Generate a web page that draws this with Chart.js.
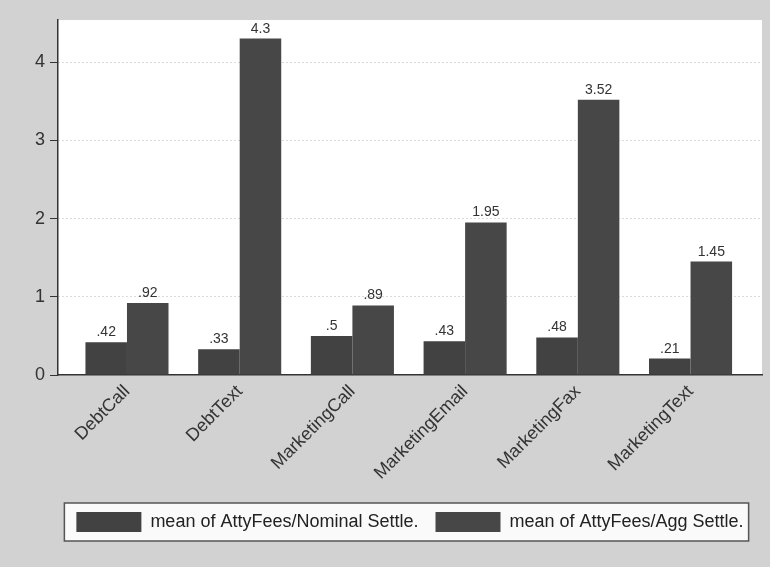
<!DOCTYPE html>
<html>
<head>
<meta charset="utf-8">
<script src="https://cdn.jsdelivr.net/npm/chart.js@4"></script>
<style>
  html, body { margin: 0; padding: 0; background: #d2d2d2; }
  #wrap { width: 770px; height: 567px; }
</style>
</head>
<body>
<div id="wrap"><canvas id="grafico" width="770" height="567"></canvas></div>
<script>
// ---------------- DADOS ----------------
const categorias = ["DebtCall", "DebtText", "MarketingCall", "MarketingEmail", "MarketingFax", "MarketingText"];
const mediaNominal = [0.42, 0.33, 0.5, 0.43, 0.48, 0.21];
const mediaAgg = [0.92, 4.3, 0.89, 1.95, 3.52, 1.45];
const nomesSeries = ["mean of AttyFees/Nominal Settle.", "mean of AttyFees/Agg Settle."];
const yTicks = [0, 1, 2, 3, 4];

const FONTE = "'Liberation Sans', Arial, sans-serif";

// formato do Stata: sem zero à esquerda
function fmt(v) {
    return String(v).replace(/^0\./, ".");
}

// ---------------- PLUGINS ----------------
const fundo = {
    id: "fundo",
    beforeDraw(chart) {
        const { ctx, chartArea: a } = chart;
        ctx.save();
        ctx.fillStyle = "#d2d2d2";
        ctx.fillRect(0, 0, chart.width, chart.height);
        ctx.fillStyle = "#ffffff";
        ctx.fillRect(a.left, a.top, a.right - a.left, a.bottom - a.top);

        // moldura da legenda
        const boxes = chart.legend.legendHitBoxes;
        if (boxes && boxes.length) {
            const first = boxes[0];
            const last = boxes[boxes.length - 1];
            const x0 = first.left - 12;
            const x1 = last.left + last.width + 5;
            const y0 = first.top - 9;
            const y1 = first.top + 20 + 9;
            ctx.fillStyle = "#fafafa";
            ctx.fillRect(x0, y0, x1 - x0, y1 - y0);
            ctx.strokeStyle = "#555";
            ctx.lineWidth = 1.5;
            ctx.strokeRect(x0, y0, x1 - x0, y1 - y0);
        }
        ctx.restore();
    }
};

const rotulos = {
    id: "rotulos",
    afterDatasetsDraw(chart) {
        const { ctx } = chart;
        ctx.save();
        ctx.font = "14px " + FONTE;
        ctx.fillStyle = "#333";
        ctx.textAlign = "center";
        ctx.textBaseline = "alphabetic";
        chart.data.datasets.forEach((ds, i) => {
            chart.getDatasetMeta(i).data.forEach((bar, j) => {
                ctx.fillText(fmt(ds.data[j].y), bar.x, bar.y - 6);
            });
        });
        ctx.restore();
    }
};

// ---------------- GRÁFICO ----------------
new Chart(document.getElementById("grafico"), {
    type: "bar",
    data: {
        datasets: [
            {
                label: nomesSeries[0],
                data: mediaNominal.map((v, i) => ({ x: i, y: v })),
                backgroundColor: "#424242"
            },
            {
                label: nomesSeries[1],
                data: mediaAgg.map((v, i) => ({ x: i, y: v })),
                backgroundColor: "#474747"
            }
        ]
    },
    options: {
        responsive: false,
        animation: false,
        layout: { padding: { left: 0, right: 8, top: 20, bottom: 25 } },
        datasets: { bar: { categoryPercentage: 0.737, barPercentage: 1 } },
        plugins: {
            legend: {
                position: "bottom",
                fullSize: false,
                labels: {
                    boxWidth: 65,
                    boxHeight: 20,
                    padding: 17,
                    color: "#222",
                    font: { family: FONTE, size: 18 }
                }
            },
            tooltip: { enabled: false }
        },
        scales: {
            x: {
                type: "linear",
                offset: false,
                min: -0.612,
                max: 5.634,
                afterBuildTicks: s => {
                    s.ticks = s.ticks.filter(t => Number.isInteger(t.value) && t.value >= 0 && t.value < categorias.length);
                },
                afterFit: s => { s.height = 120; },
                grid: { display: false, offset: false, drawTicks: false },
                border: { display: true, color: "#333", width: 1.5 },
                ticks: {
                    stepSize: 1,
                    autoSkip: false,
                    minRotation: 45,
                    maxRotation: 45,
                    padding: 6,
                    color: "#333",
                    font: { family: FONTE, size: 18 },
                    callback: v => categorias[v]
                }
            },
            y: {
                min: 0,
                max: 4.538,
                afterBuildTicks: s => {
                    s.ticks = yTicks.map(v => ({ value: v }));
                },
                afterFit: s => { s.width = 58; },
                grid: {
                    color: c => (c.tick && c.tick.value === 0 ? "rgba(0,0,0,0)" : "#b5b5b5"),
                    lineWidth: 1,
                    tickLength: 8,
                    tickColor: "#333"
                },
                border: { display: true, color: "#333", width: 1.5, dash: [1, 3] },
                ticks: {
                    padding: 5,
                    color: "#333",
                    font: { family: FONTE, size: 18 }
                }
            }
        }
    },
    plugins: [fundo, rotulos]
});
</script>
</body>
</html>
